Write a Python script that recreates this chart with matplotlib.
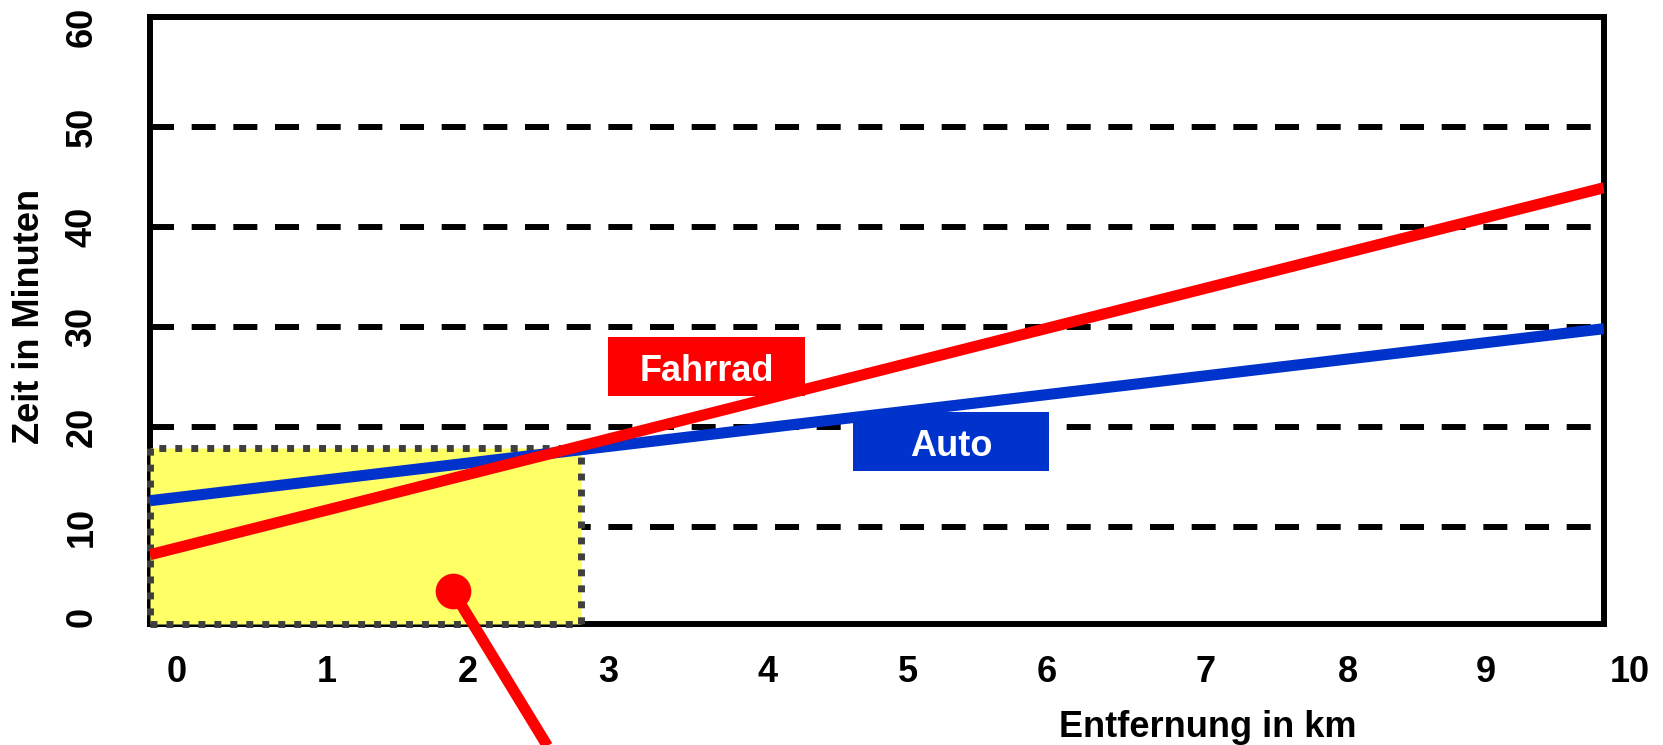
import matplotlib
matplotlib.use("Agg")
import matplotlib.pyplot as plt
from matplotlib import font_manager
from matplotlib.patches import Rectangle
from matplotlib.transforms import ScaledTranslation

# ---------------- data ----------------
distance_km = [0, 10]
fahrrad_min = [7.2, 43.9]
auto_min = [12.6, 29.8]

grid_minutes = [10, 20, 30, 40, 50]
y_tick_values = [0, 10, 20, 30, 40, 50, 60]
y_tick_labels = ["0", "10", "20", "30", "40", "50", "60"]
x_tick_labels = ["0", "1", "2", "3", "4", "5", "6", "7", "8", "9", "10"]
x_tick_pos = [0.186, 1.217, 2.187, 3.150, 4.250, 5.213, 6.169, 7.263, 8.239, 9.188, 10.179]

highlight_km = 2.964      # yellow region: up to the break-even distance
highlight_min = 17.9
pointer_start = (2.084, 3.54)
pointer_end = (2.875, -15.3)

label_fahrrad = "Fahrrad"
label_auto = "Auto"
box_fahrrad = (3.150, 23.07, 1.355, 5.9)   # x, y, w, h
box_auto = (4.835, 15.57, 1.348, 5.9)

x_title = "Entfernung in km"
y_title = "Zeit in Minuten"

# ---------------- style ----------------
RED = "#FF0000"
BLUE = "#0033CC"
YELLOW = "#FFFF66"
DOTS = "#3F3F3F"

names = {f.name for f in font_manager.fontManager.ttflist}
if "Liberation Sans Narrow" in names:
    FONT = ["Liberation Sans Narrow", "Liberation Sans", "DejaVu Sans"]
    FS = 29
else:
    FONT = ["Liberation Sans", "DejaVu Sans"]
    FS = 26

plt.rcParams["font.family"] = FONT
plt.rcParams["font.weight"] = "bold"
plt.rcParams["lines.scale_dashes"] = False

fig = plt.figure(figsize=(16.63, 7.45), dpi=100)
ax = fig.add_axes([150 / 1663, (745 - 623.7) / 745, 1454 / 1663, 607 / 745])
ax.set_xlim(0, 10)
ax.set_ylim(0.3, 61.0)
ax.set_xticks([])
ax.set_yticks([])
for s in ax.spines.values():
    s.set_linewidth(4.3)
    s.set_color("black")
    s.set_zorder(2.5)

# dashed grid lines
ax.hlines(grid_minutes, 0, 10, colors="black", linewidth=4.3,
          linestyles=[(0, (17.3, 12.7))], zorder=1)

# yellow highlight region
ybot = ax.get_ylim()[0]
rect = Rectangle((0, ybot), highlight_km, highlight_min - ybot,
                 facecolor=YELLOW, edgecolor=DOTS, linewidth=5,
                 linestyle=(0, (5.0, 6.5)), zorder=3, clip_on=False)
ax.add_patch(rect)

# label boxes
for (bx, by, bw, bh), col in [(box_fahrrad, RED), (box_auto, BLUE)]:
    ax.add_patch(Rectangle((bx, by), bw, bh, facecolor=col, edgecolor="none", zorder=4))

# lines
ax.plot(distance_km, auto_min, color=BLUE, linewidth=8, solid_capstyle="butt", zorder=5)
ax.plot(distance_km, fahrrad_min, color=RED, linewidth=8, solid_capstyle="butt", zorder=6)

# pointer
ax.plot([pointer_start[0], pointer_end[0]], [pointer_start[1], pointer_end[1]],
        color=RED, linewidth=8, solid_capstyle="butt", clip_on=False, zorder=7)
ax.plot([pointer_start[0]], [pointer_start[1]], marker="o", markersize=25.7,
        color=RED, markeredgewidth=0, clip_on=False, zorder=8)

# box texts
dt = fig.dpi_scale_trans
down = ScaledTranslation(0, -14.5 / 100, dt)
for (bx, by, bw, bh), txt in [(box_fahrrad, label_fahrrad), (box_auto, label_auto)]:
    ax.text(bx + bw / 2, by + bh / 2, txt, color="white", fontsize=FS,
            fontweight="bold", ha="center", va="baseline",
            transform=ax.transData + down, zorder=9)

# x tick labels
xt = ax.get_xaxis_transform() + ScaledTranslation(0, -48.3 / 100, dt)
for p, lab in zip(x_tick_pos, x_tick_labels):
    ax.text(p, 0, lab, fontsize=FS, fontweight="bold", ha="center", va="center",
            transform=xt, clip_on=False)

# y tick labels (rotated)
yt = ax.get_yaxis_transform() + ScaledTranslation(-68 / 100, 20 / 100, dt)
for v, lab in zip(y_tick_values, y_tick_labels):
    ax.text(0, v, lab, fontsize=FS, fontweight="bold", rotation=90,
            ha="center", va="top", transform=yt, clip_on=False)

# axis titles
ax.text(7.277, 0, x_title, fontsize=FS, fontweight="bold", ha="center", va="baseline",
        transform=ax.get_xaxis_transform() + ScaledTranslation(0, -113.3 / 100, dt))
ax.text(0, 0.507, y_title, fontsize=FS, fontweight="bold", rotation=90,
        ha="center", va="center",
        transform=ax.transAxes + ScaledTranslation(-120 / 100, 0, dt))

fig.savefig("out.png", dpi=100)
